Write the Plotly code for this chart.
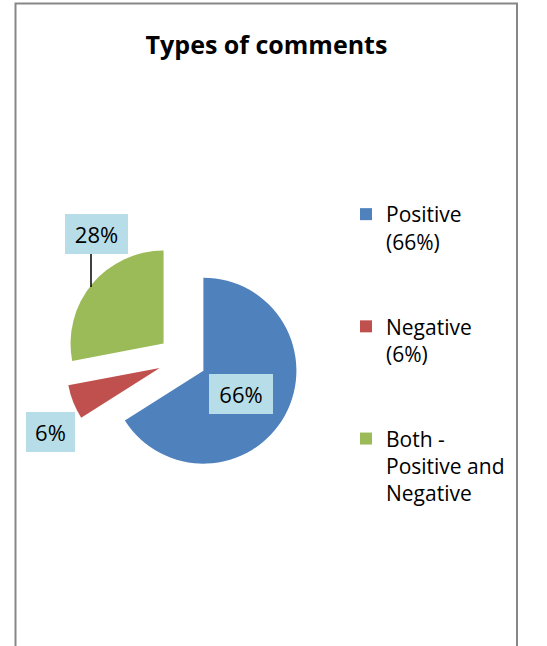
import plotly.graph_objects as go

# ---- data ----
categories = ["Positive (66%)", "Negative (6%)", "Both - Positive and Negative"]
legend_labels = ["Positive<br>(66%)<br> <br> ", "Negative<br>(6%)<br> <br> ", "Both -<br>Positive and<br>Negative"]
values = [66, 6, 28]
colors = ["#4F81BD", "#C0504D", "#9BBB59"]
data_labels = ["66%", "6%", "28%"]

W, H = 547, 646


def px(x):
    return x / W


def py(y):
    return 1 - y / H


FONT = "Open Sans"

fig = go.Figure()
fig.add_trace(go.Pie(
    labels=legend_labels,
    values=values,
    customdata=categories,
    sort=False,
    direction="clockwise",
    rotation=0,
    pull=[0.26, 0.26, 0.26],
    marker=dict(colors=colors, line=dict(width=0)),
    textinfo="none",
    hovertemplate="%{customdata}: %{value}%<extra></extra>",
    domain=dict(x=[px(65), px(299.4)], y=[py(476.2), py(241.8)]),
))

# data label boxes (centre positions in pixels)
label_pos = [(241, 394, 64), (50.5, 432, 49), (96.5, 234, 63)]
annotations = []
for txt, (cx, cy, w) in zip(data_labels, label_pos):
    annotations.append(dict(
        text=txt, x=px(cx), y=py(cy), xref="paper", yref="paper",
        xanchor="center", yanchor="middle", showarrow=False,
        bgcolor="#B7DEE8", borderpad=0, borderwidth=0, width=w, height=40,
        font=dict(family=FONT, size=22, color="#000000"),
    ))

shapes = [
    # leader line for 28%
    dict(type="line", xref="paper", yref="paper", x0=px(91), x1=px(91), y0=py(254), y1=py(287),
         line=dict(color="#000000", width=1.5)),
    # chart border (bottom edge is off-screen)
    dict(type="path", xref="paper", yref="paper",
         path=f"M {px(15.5)} {py(700)} L {px(15.5)} {py(3.5)} L {px(517)} {py(3.5)} L {px(517)} {py(700)}",
         line=dict(color="#878787", width=2)),
]

fig.update_layout(
    width=W, height=H,
    margin=dict(l=0, r=0, t=0, b=0, autoexpand=False),
    paper_bgcolor="#FFFFFF",
    plot_bgcolor="#FFFFFF",
    font=dict(family=FONT, color="#000000"),
    title=dict(text="<b>Types of comments</b>", x=px(266.5), xanchor="center",
               y=py(45.6), yanchor="middle", xref="container", yref="container",
               font=dict(family=FONT, size=25, color="#000000")),
    showlegend=True,
    legend=dict(x=px(346), y=py(194), xref="container", yref="container",
                xanchor="left", yanchor="top", valign="top",
                font=dict(family=FONT, size=21, color="#000000"),
                bgcolor="rgba(0,0,0,0)", traceorder="normal"),
    annotations=annotations,
    shapes=shapes,
)

fig.write_html("out.html", config={"displayModeBar": False},
               post_script="document.body.style.margin='0';")
